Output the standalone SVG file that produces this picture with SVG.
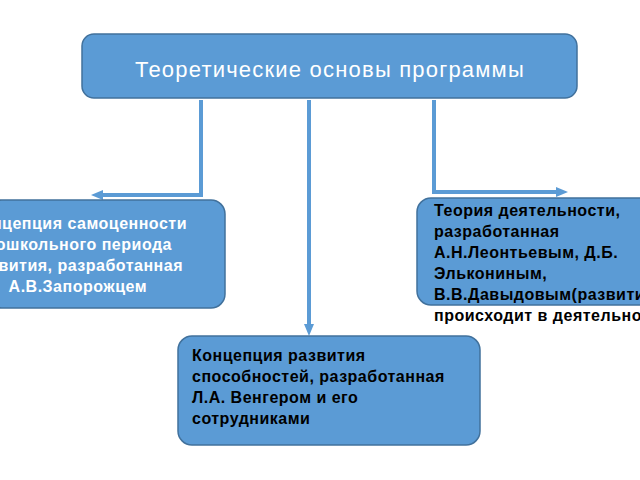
<svg xmlns="http://www.w3.org/2000/svg" width="640" height="480" viewBox="0 0 640 480">
<defs>
<style>
.box{fill:#5b9bd5;stroke:#41719c;stroke-width:1.5}
.c{fill:none;stroke:#5b9bd5;stroke-width:4}
.t{font-family:"Liberation Sans",Arial,sans-serif;font-weight:bold;font-size:16px;letter-spacing:0.5px}
</style>
<marker id="b" markerWidth="12" markerHeight="10" refX="6" refY="5" orient="auto" markerUnits="userSpaceOnUse"><path d="M0,0L12,5L0,10z" fill="#5b9bd5"/></marker>
</defs>
<rect width="640" height="480" fill="#fff"/>
<g id="connectors">
<path class="c" d="M201,100V195H97" marker-end="url(#b)"/>
<path class="c" d="M434,100V192H562" marker-end="url(#b)"/>
<path class="c" d="M309,100V330" marker-end="url(#b)"/>
</g>
<g id="top"><rect class="box" x="82" y="34" width="495" height="64" rx="12"/>
<text x="330" y="77" text-anchor="middle" font-family="Liberation Sans,Arial,sans-serif" font-size="22" letter-spacing="1.2" fill="#fff">Теоретические основы программы</text></g>
<g id="left"><rect class="box" x="-12" y="200" width="237" height="108" rx="14"/>
<text class="t" fill="#fff" text-anchor="end"><tspan x="187" y="229">Концепция самоценности</tspan><tspan x="172" y="250">дошкольного периода</tspan><tspan x="183" y="271">развития, разработанная</tspan><tspan x="147" y="292">А.В.Запорожцем</tspan></text></g>
<g id="right"><rect class="box" x="417" y="198" width="240" height="107" rx="14"/>
<text class="t" fill="#000"><tspan x="434" y="216">Теория деятельности,</tspan><tspan x="434" y="237">разработанная</tspan><tspan x="434" y="258">А.Н.Леонтьевым, Д.Б.</tspan><tspan x="434" y="279">Элькониным,</tspan><tspan x="434" y="300">В.В.Давыдовым(развитие</tspan><tspan x="434" y="321">происходит в деятельности)</tspan></text></g>
<g id="bottom"><rect class="box" x="178" y="336" width="302" height="109" rx="14"/>
<text class="t" fill="#000"><tspan x="192" y="361">Концепция развития</tspan><tspan x="192" y="382">способностей, разработанная</tspan><tspan x="192" y="403">Л.А. Венгером и его</tspan><tspan x="192" y="424">сотрудниками</tspan></text></g>
</svg>
